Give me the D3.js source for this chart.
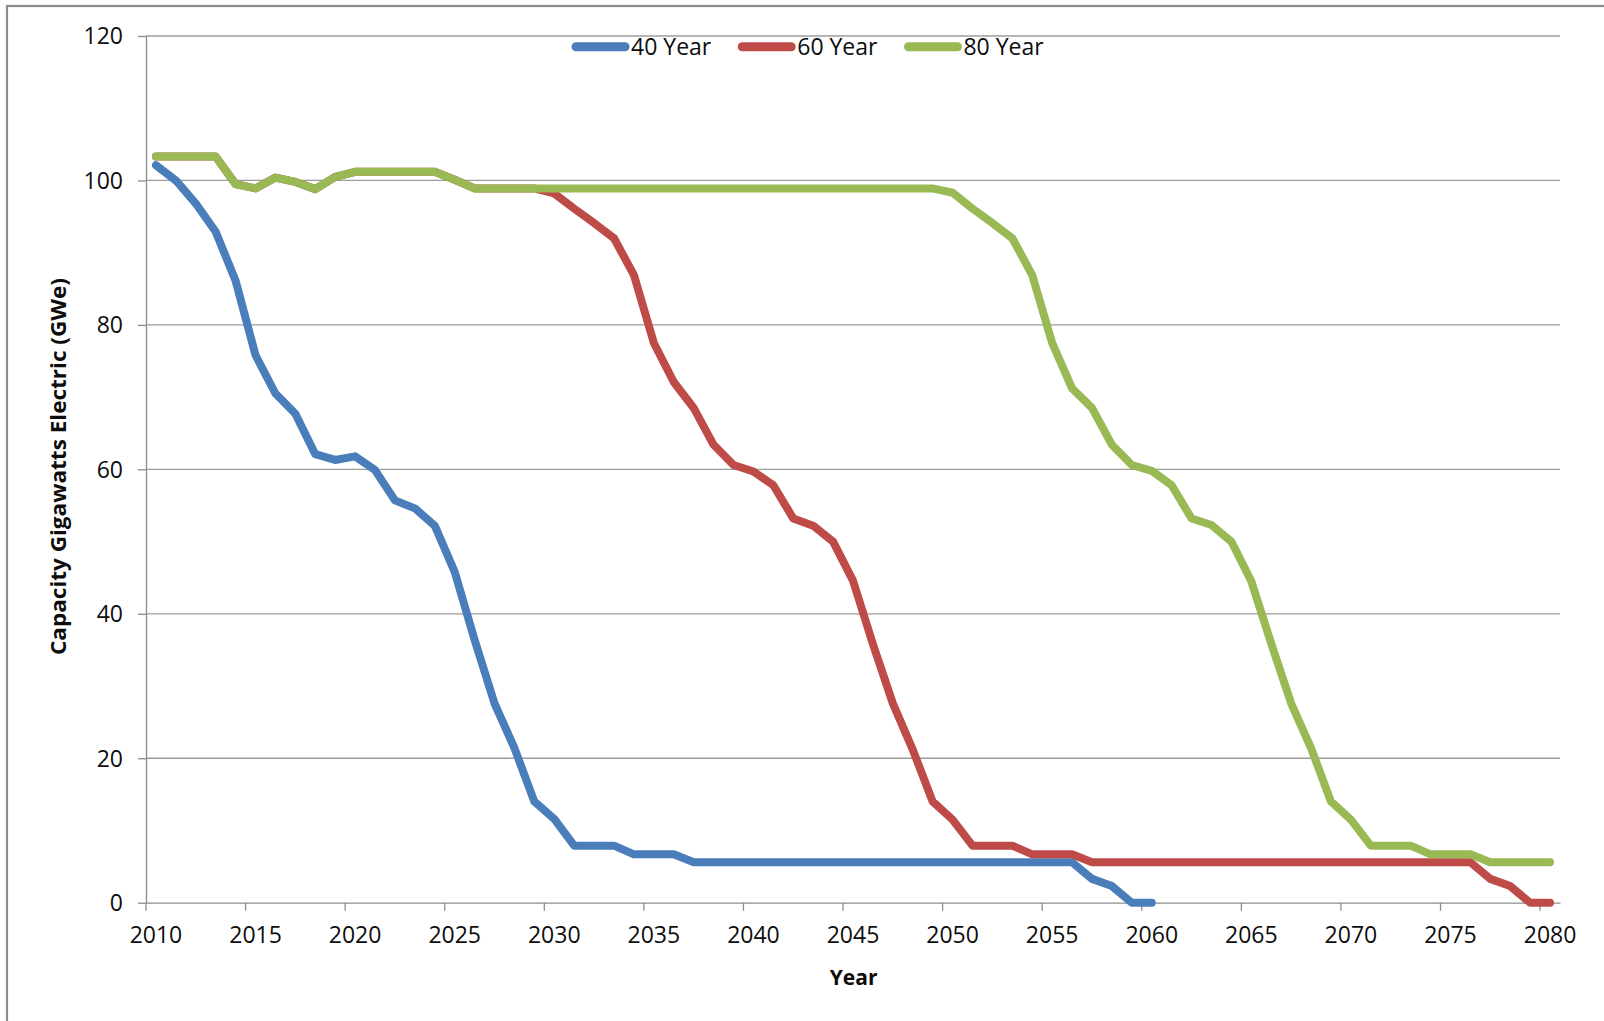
<!DOCTYPE html>
<html>
<head>
<meta charset="utf-8">
<script src="https://cdn.jsdelivr.net/npm/d3@7"></script>
<style>
  html, body { margin: 0; padding: 0; background: #fff; }
  svg { display: block; }
  text { font-family: "Open Sans", "Noto Sans", sans-serif; fill: #0d0d0d; }
</style>
</head>
<body>
<svg id="chart" width="1604" height="1021"></svg>
<script>
// Reactor fleet capacity (GWe) under 40, 60 and 80 year licence lifetimes
const years = d3.range(2010, 2081);

const capacity40 = [
  102.1, 100.0, 96.8, 92.9, 86.1, 75.8, 70.5, 67.7, 62.1, 61.3,
  61.8, 59.9, 55.7, 54.6, 52.2, 45.8, 36.4, 27.6, 21.4, 14.0,
  11.6, 7.9, 7.9, 7.9, 6.7, 6.7, 6.7, 5.6, 5.6, 5.6,
  5.6, 5.6, 5.6, 5.6, 5.6, 5.6, 5.6, 5.6, 5.6, 5.6,
  5.6, 5.6, 5.6, 5.6, 5.6, 5.6, 5.6, 3.3, 2.3, 0.0,
  0.0
];

const capacity60 = [
  103.3, 103.3, 103.3, 103.3, 99.5, 98.9, 100.4, 99.8, 98.8, 100.5,
  101.2, 101.2, 101.2, 101.2, 101.2, 100.1, 98.9, 98.9, 98.9, 98.9,
  98.2, 96.1, 94.1, 92.0, 86.9, 77.5, 72.1, 68.5, 63.4, 60.6,
  59.7, 57.8, 53.2, 52.2, 50.0, 44.6, 35.8, 27.6, 21.2, 14.0,
  11.5, 7.9, 7.9, 7.9, 6.7, 6.7, 6.7, 5.6, 5.6, 5.6,
  5.6, 5.6, 5.6, 5.6, 5.6, 5.6, 5.6, 5.6, 5.6, 5.6,
  5.6, 5.6, 5.6, 5.6, 5.6, 5.6, 5.6, 3.3, 2.3, 0.0,
  0.0
];

const capacity80 = [
  103.3, 103.3, 103.3, 103.3, 99.5, 98.9, 100.4, 99.8, 98.8, 100.5,
  101.2, 101.2, 101.2, 101.2, 101.2, 100.1, 98.9, 98.9, 98.9, 98.9,
  98.9, 98.9, 98.9, 98.9, 98.9, 98.9, 98.9, 98.9, 98.9, 98.9,
  98.9, 98.9, 98.9, 98.9, 98.9, 98.9, 98.9, 98.9, 98.9, 98.9,
  98.3, 96.1, 94.1, 92.0, 86.9, 77.5, 71.2, 68.5, 63.4, 60.6,
  59.8, 57.8, 53.2, 52.3, 50.0, 44.5, 35.9, 27.6, 21.4, 14.0,
  11.5, 7.9, 7.9, 7.9, 6.7, 6.7, 6.7, 5.6, 5.6, 5.6,
  5.6
];

const seriesNames = ["40 Year", "60 Year", "80 Year"];
const seriesColors = ["#4A7EBB", "#BE4B48", "#98B954"];
const seriesValues = [capacity40, capacity60, capacity80];

const yTicks = [0, 20, 40, 60, 80, 100, 120];
const xTickYears = [2010, 2015, 2020, 2025, 2030, 2035, 2040, 2045, 2050, 2055, 2060, 2065, 2070, 2075, 2080];

const svg = d3.select("#chart");

// outer chart frame
svg.append("rect")
  .attr("x", 7).attr("y", 6)
  .attr("width", 1610).attr("height", 1030)
  .attr("fill", "none")
  .attr("stroke", "#8c8c8c")
  .attr("stroke-width", 2.2);

const plot = { left: 146, right: 1560, top: 36, bottom: 902.7 };

const x = d3.scaleBand().domain(years).range([plot.left, plot.right]).padding(0);
const y = d3.scaleLinear().domain([0, 120]).range([plot.bottom, plot.top]);
const cx = yr => x(yr) + x.bandwidth() / 2;

// horizontal gridlines
svg.append("g")
  .selectAll("line")
  .data(yTicks.filter(v => v > 0))
  .join("line")
  .attr("x1", plot.left).attr("x2", plot.right)
  .attr("y1", d => y(d)).attr("y2", d => y(d))
  .attr("stroke", "#9c9c9c")
  .attr("stroke-width", 1.3);

// y axis with outside ticks
const yAxis = svg.append("g")
  .attr("transform", `translate(${plot.left},0)`)
  .call(d3.axisLeft(y).tickValues(yTicks).tickSize(8).tickPadding(15).tickSizeOuter(0));
yAxis.select(".domain").attr("stroke", "#8c8c8c").attr("stroke-width", 1.3);
yAxis.selectAll(".tick line").attr("stroke", "#8c8c8c").attr("stroke-width", 1.3);
yAxis.selectAll(".tick text")
  .attr("font-size", 23)
  .attr("font-family", "'Open Sans', sans-serif")
  .attr("fill", "#0d0d0d")
  .attr("dy", "0.34em");

// x axis: labels at category centres, ticks on category boundaries
const xAxis = svg.append("g")
  .attr("transform", `translate(0,${plot.bottom})`)
  .call(d3.axisBottom(x).tickValues(xTickYears).tickSize(0).tickPadding(24).tickSizeOuter(0));
xAxis.select(".domain").attr("stroke", "#8c8c8c").attr("stroke-width", 1.3);
xAxis.selectAll(".tick text")
  .attr("font-size", 23)
  .attr("font-family", "'Open Sans', sans-serif")
  .attr("fill", "#0d0d0d");
svg.append("g")
  .selectAll("line")
  .data(xTickYears)
  .join("line")
  .attr("x1", d => x(d)).attr("x2", d => x(d))
  .attr("y1", plot.bottom).attr("y2", plot.bottom + 8)
  .attr("stroke", "#8c8c8c")
  .attr("stroke-width", 1.3);

// series lines
const line = d3.line()
  .x(d => cx(d.year))
  .y(d => y(d.value));

seriesValues.forEach((vals, i) => {
  const pts = vals.map((v, k) => ({ year: years[k], value: v }));
  svg.append("path")
    .datum(pts)
    .attr("fill", "none")
    .attr("stroke", seriesColors[i])
    .attr("stroke-width", 8)
    .attr("stroke-linejoin", "round")
    .attr("stroke-linecap", "round")
    .attr("d", line);
});

// legend across the top of the plot
const legend = svg.append("g");
let lx = 572;
const ly = 46.7;
seriesNames.forEach((name, i) => {
  legend.append("line")
    .attr("x1", lx + 4).attr("x2", lx + 53)
    .attr("y1", ly).attr("y2", ly)
    .attr("stroke", seriesColors[i])
    .attr("stroke-width", 9)
    .attr("stroke-linecap", "round");
  const t = legend.append("text")
    .attr("x", lx + 59).attr("y", ly + 8)
    .attr("font-size", 23)
    .text(name);
  lx += 59 + t.node().getComputedTextLength() + 27;
});

// axis titles
svg.append("text")
  .attr("x", 853.6).attr("y", 985)
  .attr("text-anchor", "middle")
  .attr("font-size", 21)
  .attr("font-weight", "bold")
  .text("Year");

svg.append("text")
  .attr("transform", "translate(66,466.5) rotate(-90)")
  .attr("text-anchor", "middle")
  .attr("font-size", 21)
  .attr("font-weight", "bold")
  .attr("textLength", 377)
  .attr("lengthAdjust", "spacingAndGlyphs")
  .text("Capacity Gigawatts Electric (GWe)");
</script>
</body>
</html>
